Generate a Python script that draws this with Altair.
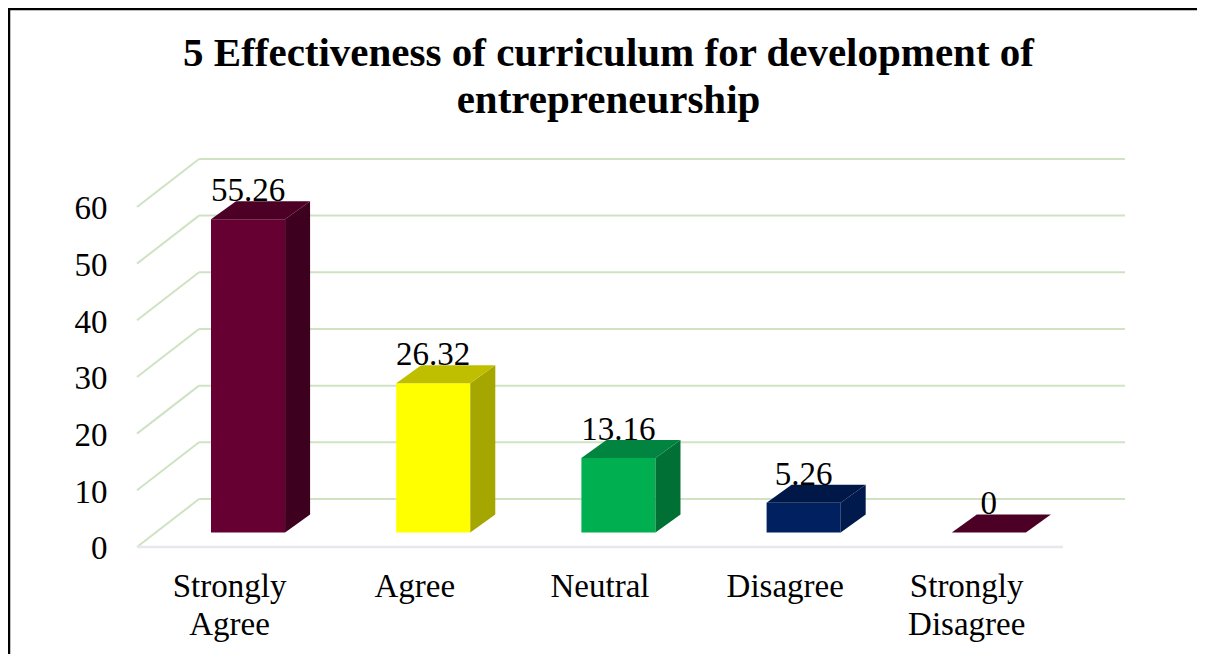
import altair as alt
import pandas as pd

# --- values
categories = ["Strongly\nAgree", "Agree", "Neutral", "Disagree", "Strongly\nDisagree"]
category_positions = [0.5, 1.5, 2.5, 3.5, 4.48]
values = [55.26, 26.32, 13.16, 5.26, 0]
front_colors = ["#660033", "#FFFF00", "#00B050", "#002060", "#660033"]
top_colors = ["#4D0026", "#BFBF00", "#008440", "#001848", "#4D0026"]
side_colors = ["#3D001F", "#A6A600", "#007035", "#001A4D", "#3D001F"]
ticks = [0, 10, 20, 30, 40, 50, 60]
title_lines = ["5 Effectiveness of curriculum for development of", "entrepreneurship"]

FONT = "Liberation Serif"
W, H = 1189, 646
X_DOMAIN = [-0.6965, 5.7235]
Y_DOMAIN = [-18.88, 95.1]
WALL_DU, WALL_DV = 0.335, 8.47     # depth of the 3-D box
BAR_DU, BAR_DV = 0.135, 3.18       # depth of a 3-D bar
BAR_BASE = 2.56                    # bars stand on the floor, mid-depth
BAR_LEFT, BAR_W = 0.3996, 0.40
CAT_LABEL_V = -8.82

xs = alt.Scale(domain=X_DOMAIN, nice=False, zero=False)
ys = alt.Scale(domain=Y_DOMAIN, nice=False, zero=False)
y_axis = alt.Axis(
    values=ticks, offset=-99, domain=False, ticks=False, grid=False, labelPadding=0, labelOffset=2,
    labelFont=FONT, labelFontSize=33, labelColor="#000000", labelOverlap=False)
X = lambda f: alt.X(f, type="quantitative", scale=xs, axis=None)
Y = lambda f: alt.Y(f, type="quantitative", scale=ys, title=None, axis=y_axis)

# grid
wall = pd.DataFrame({"t": ticks})
wall["x1"] = WALL_DU
wall["x2"] = len(categories) + WALL_DU
wall["y1"] = wall["t"] + WALL_DV
side = pd.DataFrame({"t": ticks})
side["x1"] = 0.0
side["x2"] = WALL_DU
side["y2"] = side["t"] + WALL_DV
floor = pd.DataFrame({"x1": [0.0], "x2": [float(len(categories))], "y1": [0.0]})

GREEN = "#CFE3C3"
side_l = alt.Chart(side).mark_rule(color=GREEN, strokeWidth=2).encode(
    x=X("x1"), x2="x2", y=Y("t"), y2="y2")
wall_l = alt.Chart(wall).mark_rule(color=GREEN, strokeWidth=2).encode(x=X("x1"), x2="x2", y=Y("y1"))
floor_l = alt.Chart(floor).mark_rule(color="#E6E8F0", strokeWidth=2.5).encode(x=X("x1"), x2="x2", y=Y("y1"))

# bars
front_rows, side_rows, top_rows, label_rows = [], [], [], []
for i, v in enumerate(values):
    l = i + BAR_LEFT
    r = l + BAR_W
    b = BAR_BASE
    t = b + v
    front_rows.append({"i": i, "l": l, "r": r, "b": b, "t": t, "c": front_colors[i]})
    side_rows += [
        {"i": i, "x": r, "lo": b, "hi": t, "c": side_colors[i]},
        {"i": i, "x": r + BAR_DU, "lo": b + BAR_DV, "hi": t + BAR_DV, "c": side_colors[i]},
    ]
    top_rows += [
        {"i": i, "x": l, "lo": t, "hi": t, "c": top_colors[i]},
        {"i": i, "x": l + BAR_DU, "lo": t, "hi": t + BAR_DV, "c": top_colors[i]},
        {"i": i, "x": r, "lo": t, "hi": t + BAR_DV, "c": top_colors[i]},
        {"i": i, "x": r + BAR_DU, "lo": t + BAR_DV, "hi": t + BAR_DV, "c": top_colors[i]},
    ]
    label_rows.append({"x": (l + r) / 2, "y": t, "s": str(v)})

front = alt.Chart(pd.DataFrame(front_rows)).mark_bar().encode(
    x=X("l"), x2="r", y=Y("b"), y2="t", color=alt.Color("c:N", scale=None))


def face(rows):
    return alt.Chart(pd.DataFrame(rows)).mark_area(interpolate="linear", opacity=1).encode(
        x=X("x"), y=Y("lo"), y2="hi", detail="i:N", color=alt.Color("c:N", scale=None))


bar_labels = alt.Chart(pd.DataFrame(label_rows)).mark_text(
    font=FONT, fontSize=33, color="#000000", baseline="alphabetic", align="center", dy=-18
).encode(x=X("x"), y=Y("y"), text="s:N")

cats = pd.DataFrame({"x": category_positions, "y": CAT_LABEL_V, "s": categories})
cat_labels = alt.Chart(cats).mark_text(
    font=FONT, fontSize=33, color="#000000", baseline="alphabetic", align="center",
    lineBreak="\n", lineHeight=38
).encode(x=X("x"), y=Y("y"), text="s:N")

anchor = pd.DataFrame({"a": [0]})
border_top = alt.Chart(anchor).mark_rule(color="#000000", strokeWidth=2.5).encode(
    x=alt.value(0), x2=alt.value(W), y=alt.value(1))
border_left = alt.Chart(anchor).mark_rule(color="#000000", strokeWidth=2.5).encode(
    x=alt.value(1), y=alt.value(0), y2=alt.value(H))

chart = alt.layer(
    side_l, wall_l, floor_l, front, face(side_rows), face(top_rows), bar_labels, cat_labels,
    border_top, border_left
).properties(
    width=W, height=H,
    padding=0,
    autosize=alt.AutoSizeParams(type="none"),
    background="#FFFFFF",
    title=alt.TitleParams(
        text=title_lines, font=FONT, fontSize=41, fontWeight="bold", color="#000000",
        anchor="middle", lineHeight=47, dx=6, offset=-147, baseline="alphabetic"),
).configure_view(stroke=None)

chart.save("out.html", embed_options={"renderer": "svg", "actions": False})
